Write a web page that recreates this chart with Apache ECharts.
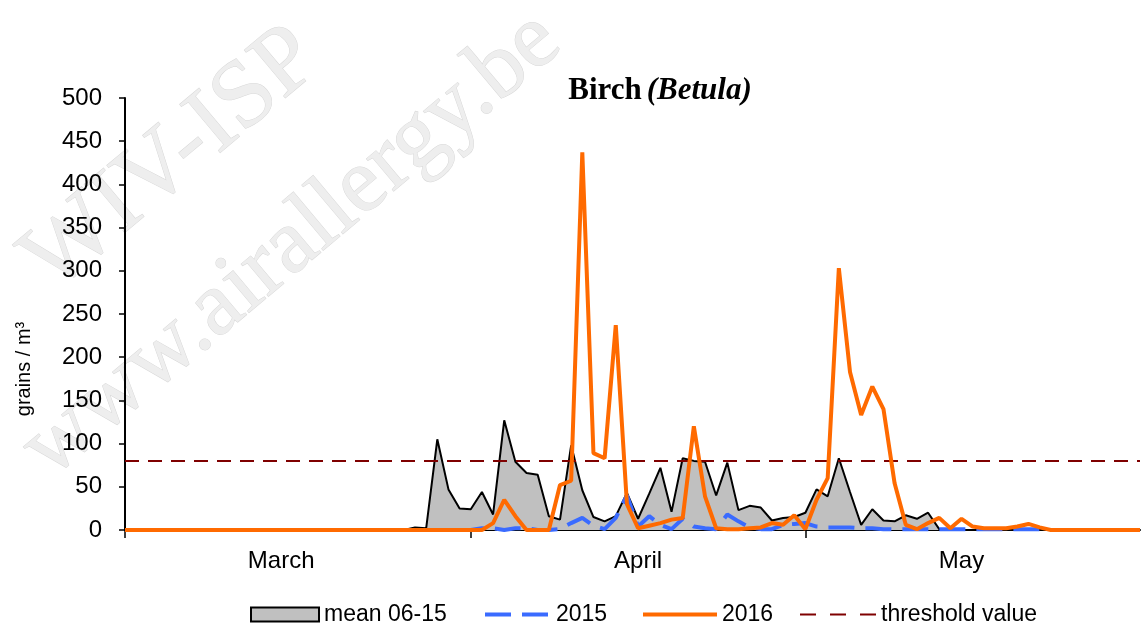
<!DOCTYPE html>
<html>
<head>
<meta charset="utf-8">
<script src="https://cdn.jsdelivr.net/npm/echarts@6/dist/echarts.min.js"></script>
<style>
html,body{margin:0;padding:0;background:#fff;}
#chart{width:1143px;height:634px;}
</style>
</head>
<body>
<div id="chart"></div>
<script>
// ---- data ----
const months = ['March', 'April', 'May'];
const monthDays = [31, 30, 31];
const monthLabelDay = [15, 16, 15];

const mean0615 = [
  0,0,0,0,0,0,0,0,0,0, 0,0,0,0,0,0,0,0,0,0, 0,0,0,0,0,0,
  3,2,105,47,25,24,44,18,127,79,66,64,16,12,98,46,15,10,16,43,13,42,72,21,
  83,80,79,40,78,23,28,26,11,14,15,20,47,39,83,44,6,24,11,10,17,13,20,1,
  0,0,0,0,0,0,0,0,0,0,0,0,0,0,0,0,0,0
];
const y2015 = [
  0,0,0,0,0,0,0,0,0,0, 0,0,0,0,0,0,0,0,0,0, 0,0,0,0,0,0,0,0,0,0, 0,0,
  2,2,0,2,2,0,0,1,8,14,5,1,14,40,4,16,6,1,13,4,2,1,18,10,3,1,1,6,7,8,
  4,3,3,3,2,2,1,1,1,1,1,1,1,1,1,1,1,1,1,1,1,
  0,0,0,0,0,0,0,0,0
];
const y2016 = [
  0,0,0,0,0,0,0,0,0,0, 0,0,0,0,0,0,0,0,0,0, 0,0,0,0,0,0,0,0,0,0, 0,0,0,
  8,35,16,0,0,0,52,57,437,89,83,237,30,2,5,8,12,14,120,39,2,1,1,2,3,8,6,17,1,
  35,60,303,183,133,166,140,54,6,1,8,14,2,13,4,2,2,2,4,7,3,
  0,0,0,0,0,0,0,0,0
];
const thresholdValue = 80;
const yTicks = [0, 50, 100, 150, 200, 250, 300, 350, 400, 450, 500];
const names = ['mean 06-15', '2015', '2016', 'threshold value'];

// categories: one per day
const categories = [];
const monthOf = [];
const dayOf = [];
months.forEach((m, mi) => {
  for (let d = 1; d <= monthDays[mi]; d++) {
    categories.push(m + ' ' + d);
    monthOf.push(mi);
    dayOf.push(d);
  }
});
const thresholdData = categories.map(() => thresholdValue);

const FONT = '"Liberation Sans", Arial, sans-serif';
const SERIF = '"Liberation Serif", "Times New Roman", serif';

const chart = echarts.init(document.getElementById('chart'), null, {renderer: 'canvas'});

const legendBase = {
  bottom: 3,
  itemHeight: 14,
  textStyle: {fontFamily: FONT, fontSize: 23, color: '#000'},
  itemGap: 10,
  selectedMode: false,
  itemStyle: {opacity: 0},
  lineStyle: {width: 4}
};

const option = {
  animation: false,
  backgroundColor: '#fff',
  title: {
    text: '{b|Birch} {i|(Betula)}',
    left: 655, top: 70, textAlign: 'center',
    textStyle: {
      rich: {
        b: {fontFamily: SERIF, fontWeight: 'bold', fontSize: 31, color: '#000'},
        i: {fontFamily: SERIF, fontWeight: 'bold', fontStyle: 'italic', fontSize: 31, color: '#000'}
      }
    }
  },
  graphic: [
    {type: 'text', z: -10, x: 172, y: 160, rotation: 40 * Math.PI / 180,
      style: {text: 'WIV-ISP', font: '96px "Liberation Serif", serif', fill: '#eeeeee', stroke: '#d8d8d8', lineWidth: 1, align: 'center', verticalAlign: 'middle'}},
    {type: 'text', z: -10, x: 292, y: 245, rotation: 40 * Math.PI / 180,
      style: {text: 'www.airallergy.be', font: '92px "Liberation Serif", serif', fill: '#eeeeee', stroke: '#d8d8d8', lineWidth: 1, align: 'center', verticalAlign: 'middle'}},
    {type: 'text', x: 24, y: 369, rotation: Math.PI / 2,
      style: {text: 'grains / m³', font: '20px "Liberation Sans", Arial, sans-serif', fill: '#000', align: 'center', verticalAlign: 'middle'}}
  ],
  legend: [
    Object.assign({}, legendBase, {left: 245, itemWidth: 68, itemStyle: {},
      data: [{name: names[0], icon: 'rect', itemStyle: {color: '#c0c0c0', borderColor: '#000', borderWidth: 2, opacity: 1}}]}),
    Object.assign({}, legendBase, {left: 478, data: [names[1]], itemWidth: 66, lineStyle: {width: 4, type: [26, 11]}}),
    Object.assign({}, legendBase, {left: 636, data: [names[2]], itemWidth: 74}),
    Object.assign({}, legendBase, {left: 794, data: [names[3]], itemWidth: 76, lineStyle: {width: 2, type: [16, 14]}})
  ],
  grid: {left: 125, right: 3, top: 98, bottom: 104, containLabel: false},
  xAxis: {
    type: 'category',
    data: categories,
    boundaryGap: false,
    axisLine: {lineStyle: {color: '#000', width: 2}},
    axisTick: {
      show: true, length: 8, inside: false,
      lineStyle: {color: '#000', width: 1.5},
      interval: (i) => dayOf[i] === 1
    },
    axisLabel: {
      interval: (i) => dayOf[i] === monthLabelDay[monthOf[i]],
      formatter: (v, i) => months[monthOf[i]],
      fontFamily: FONT, fontSize: 24, color: '#000', margin: 19
    },
    splitLine: {show: false}
  },
  yAxis: {
    type: 'value',
    min: yTicks[0], max: yTicks[yTicks.length - 1], interval: yTicks[1] - yTicks[0],
    axisLine: {show: true, lineStyle: {color: '#000', width: 2}},
    axisTick: {show: true, length: 6, lineStyle: {color: '#000', width: 1.5}},
    axisLabel: {fontFamily: FONT, fontSize: 24, color: '#000', margin: 23},
    splitLine: {show: false}
  },
  series: [
    {
      name: names[0], type: 'line', data: mean0615, symbol: 'none', z: 1,
      lineStyle: {color: '#000', width: 2},
      itemStyle: {color: '#c0c0c0', borderColor: '#000'},
      areaStyle: {color: '#c0c0c0', opacity: 1}
    },
    {
      name: names[3], type: 'line', data: thresholdData, symbol: 'none', z: 2,
      lineStyle: {color: '#7f0000', width: 2, type: [14, 9]},
      itemStyle: {color: '#7f0000'}
    },
    {
      name: names[1], type: 'line', data: y2015, symbol: 'none', z: 3,
      lineStyle: {color: '#3a6bff', width: 4, type: [26, 11]},
      itemStyle: {color: '#3a6bff'}
    },
    {
      name: names[2], type: 'line', data: y2016, symbol: 'none', z: 4,
      lineStyle: {color: '#ff6a00', width: 4},
      itemStyle: {color: '#ff6a00'}
    }
  ]
};
chart.setOption(option);
</script>
</body>
</html>
